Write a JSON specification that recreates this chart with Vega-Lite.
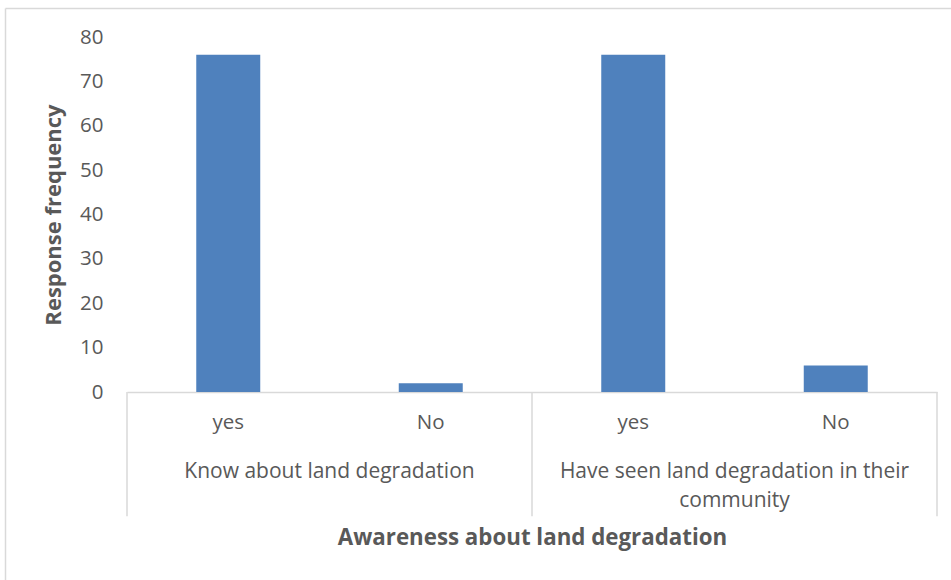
{
  "$schema": "https://vega.github.io/schema/vega-lite/v6.json",
  "width": 810,
  "height": 355,
  "autosize": {"type": "none"},
  "padding": {"left": 127, "top": 37, "right": 14, "bottom": 188},
  "background": "white",
  "config": {
    "view": {"stroke": null},
    "font": "Open Sans",
    "text": {"font": "Open Sans"}
  },
  "data": {
    "values": [
      {"group": "Know about land degradation", "answer": "yes", "key": "A|yes", "count": 76},
      {"group": "Know about land degradation", "answer": "No", "key": "A|No", "count": 2},
      {"group": "Have seen land degradation in their community", "answer": "yes", "key": "B|yes", "count": 76},
      {"group": "Have seen land degradation in their community", "answer": "No", "key": "B|No", "count": 6}
    ]
  },
  "resolve": {"scale": {"x": "independent"}, "axis": {"x": "independent"}},
  "layer": [
    {
      "mark": {"type": "bar", "color": "#4f81bd"},
      "encoding": {
        "x": {
          "field": "key", "type": "nominal", "sort": null,
          "scale": {"paddingInner": 0.684, "paddingOuter": 0.342},
          "axis": {
            "title": "Awareness about land degradation",
            "titleFont": "Open Sans", "titleFontSize": 22.3, "titleFontWeight": "bold", "titleColor": "#595959",
            "titlePadding": 94,
            "labelExpr": "split(datum.label, '|')[1]",
            "labelFont": "Open Sans", "labelFontSize": 20.5, "labelColor": "#595959",
            "labelAngle": 0, "labelPadding": 20,
            "ticks": false, "domainColor": "#d9d9d9", "domainWidth": 1.5
          }
        },
        "y": {
          "field": "count", "type": "quantitative",
          "scale": {"domain": [0, 80], "nice": false},
          "axis": {
            "title": "Response frequency",
            "titleFont": "Open Sans", "titleFontSize": 22, "titleFontWeight": "bold", "titleColor": "#595959",
            "titlePadding": 14,
            "values": [0, 10, 20, 30, 40, 50, 60, 70, 80],
            "labelFont": "Open Sans", "labelFontSize": 20.5, "labelColor": "#595959",
            "labelPadding": 24, "ticks": false, "domain": false, "grid": false
          }
        }
      }
    },
    {
      "transform": [
        {"filter": "datum.answer == 'yes'"},
        {"calculate": "indexof(datum.group, ' community') > 0 ? [replace(datum.group, ' community', ''), 'community'] : datum.group", "as": "label"}
      ],
      "mark": {"type": "text", "baseline": "alphabetic", "align": "center", "fontSize": 21, "color": "#595959", "lineHeight": 29},
      "encoding": {
        "x": {"field": "group", "type": "nominal", "sort": null, "scale": {"paddingInner": 0, "paddingOuter": 0}, "axis": null},
        "y": {"datum": -19.3},
        "text": {"field": "label"}
      }
    },
    {
      "transform": [{"filter": "datum.answer == 'yes'"}],
      "mark": {"type": "rule", "color": "#d9d9d9", "strokeWidth": 1.5},
      "encoding": {
        "x": {"field": "group", "type": "nominal", "sort": null, "bandPosition": 0, "scale": {"paddingInner": 0, "paddingOuter": 0}, "axis": null},
        "y": {"datum": 0},
        "y2": {"datum": -28}
      }
    },
    {
      "transform": [{"filter": "datum.answer == 'yes' && indexof(datum.group, 'Have') == 0"}],
      "mark": {"type": "rule", "color": "#d9d9d9", "strokeWidth": 1.5},
      "encoding": {
        "x": {"field": "group", "type": "nominal", "sort": null, "bandPosition": 1, "scale": {"paddingInner": 0, "paddingOuter": 0}, "axis": null},
        "y": {"datum": 0},
        "y2": {"datum": -28}
      }
    },
    {
      "data": {"values": [{"edge": "top"}]},
      "mark": {"type": "rule", "color": "#d9d9d9", "strokeWidth": 1.5},
      "encoding": {
        "x": {"datum": -0.6, "type": "quantitative", "scale": {"domain": [0, 4], "nice": false, "zero": false}, "axis": null},
        "x2": {"datum": 4.2},
        "y": {"datum": 86.4},
        "y2": {"datum": 86.4}
      }
    },
    {
      "data": {"values": [{"edge": "left"}]},
      "mark": {"type": "rule", "color": "#d9d9d9", "strokeWidth": 1.5},
      "encoding": {
        "x": {"datum": -0.6, "type": "quantitative", "scale": {"domain": [0, 4], "nice": false, "zero": false}, "axis": null},
        "y": {"datum": 86.4},
        "y2": {"datum": -45}
      }
    }
  ]
}
